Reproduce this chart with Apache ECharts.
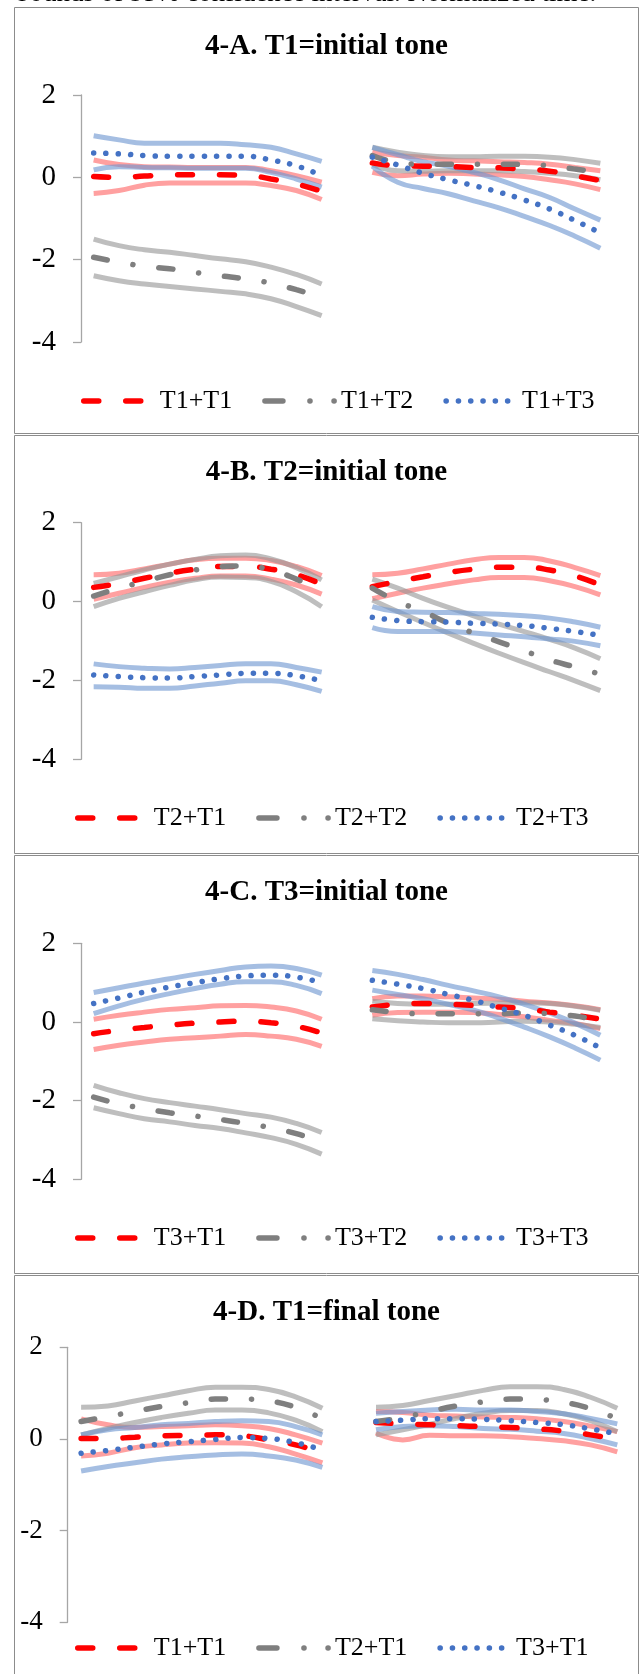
<!DOCTYPE html>
<html>
<head>
<meta charset="utf-8">
<script src="https://cdn.jsdelivr.net/npm/echarts@6/dist/echarts.min.js"></script>
<style>
  html, body { margin: 0; padding: 0; background: #fff; }
  #chart { width: 641px; height: 1674px; }
</style>
</head>
<body>
<div id="chart"></div>
<script>
// normalized time: 10 points per syllable, one empty slot between them
const timePoints = ['1','2','3','4','5','6','7','8','9','10','','1','2','3','4','5','6','7','8','9','10'];
const yTicks = [-4, -2, 0, 2];

// 4-A. T1 = initial tone
const aT1T1Hi = [0.42,0.31,0.26,0.25,0.24,0.24,0.24,0.16,0.04,-0.12,null,0.61,0.53,0.49,0.42,0.40,0.38,0.36,0.32,0.24,0.16];
const aT1T1   = [0.02,0.00,0.03,0.06,0.06,0.06,0.05,-0.04,-0.16,-0.34,null,0.35,0.28,0.27,0.26,0.24,0.23,0.20,0.15,0.04,-0.08];
const aT1T1Lo = [-0.39,-0.32,-0.19,-0.14,-0.14,-0.14,-0.14,-0.20,-0.32,-0.54,null,0.12,0.04,0.08,0.10,0.08,0.06,0.02,-0.06,-0.16,-0.30];
const aT1T2Hi = [-1.50,-1.66,-1.76,-1.82,-1.90,-1.98,-2.05,-2.18,-2.36,-2.59,null,0.73,0.61,0.53,0.50,0.50,0.51,0.51,0.49,0.43,0.34];
const aT1T2   = [-1.94,-2.06,-2.16,-2.22,-2.31,-2.39,-2.47,-2.57,-2.73,-2.91,null,0.53,0.36,0.32,0.32,0.32,0.32,0.31,0.28,0.20,0.12];
const aT1T2Lo = [-2.39,-2.51,-2.59,-2.65,-2.71,-2.77,-2.83,-2.95,-3.14,-3.36,null,0.32,0.16,0.15,0.16,0.16,0.16,0.14,0.10,0.04,-0.06];
const aT1T3Hi = [1.01,0.91,0.83,0.83,0.83,0.83,0.79,0.73,0.57,0.39,null,0.73,0.55,0.38,0.27,0.12,-0.06,-0.28,-0.49,-0.77,-1.04];
const aT1T3   = [0.59,0.57,0.53,0.51,0.51,0.51,0.51,0.42,0.28,0.04,null,0.49,0.30,0.10,-0.06,-0.20,-0.36,-0.55,-0.77,-1.05,-1.35];
const aT1T3Lo = [0.18,0.26,0.24,0.23,0.22,0.22,0.22,0.12,-0.04,-0.24,null,0.27,-0.12,-0.27,-0.40,-0.57,-0.74,-0.95,-1.17,-1.43,-1.72];

// 4-B. T2 = initial tone
const bT2T1Hi = [0.68,0.72,0.83,0.95,1.06,1.10,1.10,1.04,0.89,0.66,null,0.68,0.72,0.83,0.95,1.06,1.12,1.12,1.03,0.86,0.66];
const bT2T1   = [0.36,0.46,0.59,0.72,0.82,0.89,0.89,0.82,0.68,0.44,null,0.38,0.51,0.63,0.74,0.82,0.87,0.87,0.80,0.65,0.42];
const bT2T1Lo = [0.06,0.21,0.36,0.49,0.59,0.65,0.65,0.57,0.42,0.19,null,0.07,0.21,0.34,0.45,0.55,0.61,0.61,0.53,0.38,0.17];
const bT2T2Hi = [0.46,0.63,0.80,0.95,1.07,1.16,1.18,1.08,0.86,0.55,null,0.57,0.34,0.08,-0.15,-0.36,-0.57,-0.76,-0.96,-1.18,-1.45];
const bT2T2   = [0.14,0.34,0.51,0.68,0.80,0.89,0.90,0.80,0.57,0.27,null,0.34,0.00,-0.25,-0.55,-0.80,-1.02,-1.25,-1.48,-1.66,-1.84];
const bT2T2Lo = [-0.13,0.08,0.25,0.41,0.55,0.62,0.61,0.51,0.25,-0.13,null,0.04,-0.25,-0.53,-0.80,-1.06,-1.31,-1.55,-1.78,-2.01,-2.26];
const bT2T3Hi = [-1.58,-1.65,-1.69,-1.71,-1.67,-1.62,-1.58,-1.58,-1.67,-1.79,null,-0.13,-0.25,-0.27,-0.28,-0.30,-0.32,-0.36,-0.42,-0.52,-0.65];
const bT2T3   = [-1.86,-1.90,-1.93,-1.94,-1.90,-1.86,-1.82,-1.82,-1.88,-2.01,null,-0.40,-0.48,-0.51,-0.52,-0.55,-0.57,-0.61,-0.68,-0.76,-0.86];
const bT2T3Lo = [-2.16,-2.17,-2.20,-2.20,-2.14,-2.07,-2.01,-2.01,-2.11,-2.28,null,-0.66,-0.76,-0.76,-0.76,-0.80,-0.85,-0.89,-0.95,-1.01,-1.12];

// 4-C. T3 = initial tone
const cT3T1Hi = [0.07,0.17,0.25,0.32,0.36,0.41,0.42,0.38,0.28,0.07,null,0.59,0.66,0.66,0.64,0.61,0.58,0.53,0.48,0.41,0.31];
const cT3T1   = [-0.30,-0.21,-0.14,-0.08,-0.03,0.00,0.02,-0.02,-0.11,-0.28,null,0.38,0.45,0.47,0.45,0.42,0.38,0.34,0.25,0.17,0.07];
const cT3T1Lo = [-0.70,-0.59,-0.51,-0.44,-0.40,-0.36,-0.32,-0.36,-0.44,-0.62,null,0.17,0.24,0.25,0.25,0.24,0.19,0.13,0.04,-0.04,-0.17];
const cT3T2Hi = [-1.61,-1.80,-1.95,-2.05,-2.14,-2.23,-2.33,-2.42,-2.58,-2.81,null,0.53,0.47,0.45,0.45,0.47,0.48,0.49,0.47,0.40,0.30];
const cT3T2   = [-1.91,-2.08,-2.20,-2.31,-2.39,-2.48,-2.58,-2.69,-2.84,-3.05,null,0.31,0.24,0.21,0.21,0.21,0.21,0.23,0.21,0.15,0.04];
const cT3T2Lo = [-2.18,-2.33,-2.46,-2.54,-2.63,-2.71,-2.82,-2.94,-3.11,-3.36,null,0.08,0.03,0.00,-0.02,-0.02,0.00,0.02,0.00,-0.06,-0.14];
const cT3T3Hi = [0.75,0.87,0.99,1.10,1.21,1.31,1.40,1.42,1.36,1.19,null,1.31,1.21,1.08,0.93,0.79,0.64,0.45,0.23,-0.03,-0.34];
const cT3T3   = [0.47,0.61,0.76,0.89,1.00,1.10,1.17,1.19,1.14,1.00,null,1.06,0.96,0.85,0.70,0.55,0.36,0.17,-0.08,-0.34,-0.66];
const cT3T3Lo = [0.21,0.41,0.58,0.72,0.85,0.96,1.02,1.02,0.93,0.72,null,0.81,0.70,0.59,0.45,0.30,0.10,-0.13,-0.38,-0.66,-0.97];

// 4-D. T1 = final tone
const dT1T1Hi = [0.44,0.31,0.25,0.27,0.29,0.31,0.29,0.23,0.09,-0.09,null,0.60,0.58,0.52,0.50,0.48,0.47,0.44,0.38,0.28,0.16];
const dT1T1   = [0.01,0.01,0.04,0.07,0.08,0.09,0.07,-0.02,-0.13,-0.30,null,0.36,0.33,0.31,0.29,0.27,0.25,0.22,0.17,0.09,-0.02];
const dT1T1Lo = [-0.37,-0.31,-0.19,-0.13,-0.09,-0.08,-0.09,-0.17,-0.33,-0.52,null,0.13,-0.02,0.08,0.07,0.07,0.05,0.01,-0.04,-0.13,-0.28];
const dT2T1Hi = [0.69,0.72,0.83,0.94,1.05,1.13,1.13,1.08,0.92,0.67,null,0.69,0.73,0.84,0.95,1.06,1.14,1.14,1.08,0.91,0.67];
const dT2T1   = [0.38,0.49,0.60,0.71,0.79,0.87,0.87,0.83,0.69,0.44,null,0.38,0.47,0.60,0.72,0.81,0.87,0.86,0.80,0.66,0.44];
const dT2T1Lo = [0.09,0.23,0.36,0.47,0.56,0.63,0.63,0.57,0.41,0.16,null,0.09,0.20,0.32,0.45,0.56,0.62,0.62,0.55,0.40,0.16];
const dT3T1Hi = [0.09,0.20,0.25,0.31,0.34,0.38,0.40,0.38,0.27,0.09,null,0.56,0.60,0.63,0.65,0.63,0.63,0.60,0.55,0.45,0.33];
const dT3T1   = [-0.31,-0.25,-0.18,-0.11,-0.06,-0.01,0.03,0.01,-0.08,-0.24,null,0.38,0.41,0.44,0.44,0.43,0.40,0.36,0.31,0.22,0.11];
const dT3T1Lo = [-0.70,-0.60,-0.52,-0.44,-0.39,-0.35,-0.33,-0.37,-0.46,-0.62,null,0.20,0.27,0.29,0.27,0.23,0.21,0.17,0.12,0.01,-0.13];

const panels = [
  { key: 'A', title: '4-A. T1=initial tone', names: ['T1+T1', 'T1+T2', 'T1+T3'],
    lines: [[aT1T1Hi, aT1T1, aT1T1Lo], [aT1T2Hi, aT1T2, aT1T2Lo], [aT1T3Hi, aT1T3, aT1T3Lo]],
    grid: { left: 81, top: 95, width: 532, height: 247 }, box: [7.5, 426], titleY: 47, legend: [76, 383], fontSize: 29 },
  { key: 'B', title: '4-B. T2=initial tone', names: ['T2+T1', 'T2+T2', 'T2+T3'],
    lines: [[bT2T1Hi, bT2T1, bT2T1Lo], [bT2T2Hi, bT2T2, bT2T2Lo], [bT2T3Hi, bT2T3, bT2T3Lo]],
    grid: { left: 81, top: 522.7, width: 532, height: 236.6 }, box: [435.5, 418], titleY: 473, legend: [70, 800], fontSize: 29 },
  { key: 'C', title: '4-C. T3=initial tone', names: ['T3+T1', 'T3+T2', 'T3+T3'],
    lines: [[cT3T1Hi, cT3T1, cT3T1Lo], [cT3T2Hi, cT3T2, cT3T2Lo], [cT3T3Hi, cT3T3, cT3T3Lo]],
    grid: { left: 81, top: 943.3, width: 532, height: 236 }, box: [855.5, 418], titleY: 893, legend: [70, 1220], fontSize: 29 },
  { key: 'D', title: '4-D. T1=final tone', names: ['T1+T1', 'T2+T1', 'T3+T1'],
    lines: [[dT1T1Hi, dT1T1, dT1T1Lo], [dT2T1Hi, dT2T1, dT2T1Lo], [dT3T1Hi, dT3T1, dT3T1Lo]],
    grid: { left: 67.7, top: 1347.3, width: 563, height: 275 }, box: [1275.5, 430], titleY: 1313, legend: [70, 1630], fontSize: 27 }
];

// red dashed, grey dash-dot, blue dotted
const meanStyles = [
  { color: '#FF0000', width: 5.5, type: [15, 27], cap: 'round' },
  { color: '#7F7F7F', width: 5.5, type: [14, 26, 0.1, 26], cap: 'round' },
  { color: '#4472C4', width: 5.5, type: [0.1, 12.2], cap: 'round' }
];
// the legend sample of the grey line shows dash, dot, dot
const legendStyles = [
  meanStyles[0],
  Object.assign({}, meanStyles[1], { type: [18, 27, 0.1, 24, 0.1, 40] }),
  meanStyles[2]
];
const bandColors = ['rgba(255,102,102,0.62)', 'rgba(150,150,150,0.62)', 'rgba(110,150,208,0.62)'];
const serif = '"Liberation Serif", "Times New Roman", serif';

const grids = [], xAxes = [], yAxes = [], series = [], legends = [], graphics = [];

graphics.push({
  type: 'text', x: 16, y: 7,
  style: { text: 'bounds of 95% confidence interval. Normalized time.', font: '27px ' + serif,
    fill: '#000', align: 'left', verticalAlign: 'bottom' }
});

panels.forEach((p, k) => {
  grids.push(p.grid);
  xAxes.push({ gridIndex: k, type: 'category', data: timePoints, boundaryGap: true, show: false });
  yAxes.push({
    gridIndex: k, type: 'value', min: yTicks[0], max: yTicks[yTicks.length - 1], interval: 2,
    axisLine: { show: true, lineStyle: { color: '#A6A6A6', width: 1.3 } },
    axisTick: { show: true, length: 8, lineStyle: { color: '#A6A6A6', width: 1.3 } },
    axisLabel: { margin: 25, color: '#000', fontSize: p.fontSize, fontFamily: serif },
    splitLine: { show: false }
  });

  // confidence bounds first, mean lines on top
  p.lines.forEach((grp, g) => {
    [grp[0], grp[2]].forEach((vals, j) => {
      series.push({
        name: p.key + '|ci' + g + j, type: 'line', xAxisIndex: k, yAxisIndex: k,
        data: vals, smooth: true, symbol: 'none', z: 2, silent: true,
        lineStyle: { color: bandColors[g], width: 5 }
      });
    });
  });
  p.lines.forEach((grp, g) => {
    series.push({
      name: p.key + '|' + p.names[g], type: 'line', xAxisIndex: k, yAxisIndex: k,
      data: grp[1], smooth: true, symbol: 'none', z: 3, silent: true,
      itemStyle: { color: meanStyles[g].color, opacity: 0 },
      lineStyle: meanStyles[g]
    });
  });

  legends.push({
    data: p.names.map((n, g) => ({ name: p.key + '|' + n, lineStyle: legendStyles[g], itemStyle: { opacity: 0 } })),
    formatter: n => n.split('|')[1],
    left: p.legend[0], top: p.legend[1], orient: 'horizontal',
    itemWidth: 70, itemHeight: 14, itemGap: 30, selectedMode: false,
    itemStyle: { opacity: 0, borderWidth: 0 },
    textStyle: { fontSize: 26, fontFamily: serif, color: '#000', padding: [0, 0, 0, 1] }
  });

  graphics.push({
    type: 'rect', shape: { x: 14.5, y: p.box[0], width: 624, height: p.box[1] },
    style: { fill: 'none', stroke: '#8C8C8C', lineWidth: 1 }, z: 0
  });
  graphics.push({
    type: 'text', x: 326.5, y: p.titleY,
    style: { text: p.title, font: 'bold 29px ' + serif, fill: '#000', align: 'center', verticalAlign: 'middle' }
  });
});

const chart = echarts.init(document.getElementById('chart'));
chart.setOption({
  animation: false,
  backgroundColor: '#fff',
  grid: grids,
  xAxis: xAxes,
  yAxis: yAxes,
  legend: legends,
  graphic: graphics,
  series: series
});
</script>
</body>
</html>
